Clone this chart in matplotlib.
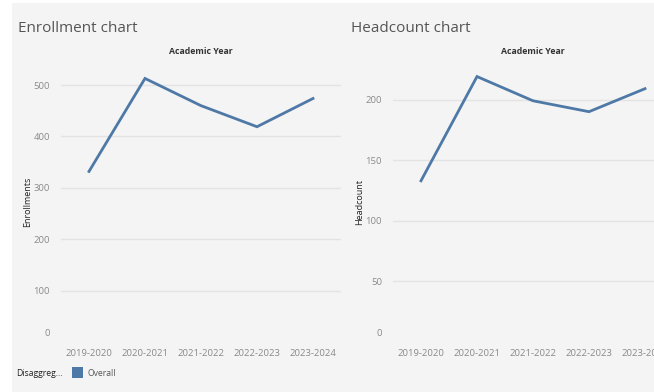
import matplotlib.pyplot as plt
from matplotlib.patches import Rectangle
from matplotlib.transforms import ScaledTranslation

years = ["2019-2020", "2020-2021", "2021-2022", "2022-2023", "2023-2024"]
enrollments = [332, 513, 460, 419, 474]
headcount = [133, 219, 199, 190, 209]
enroll_ticks = [0, 100, 200, 300, 400, 500]
head_ticks = [0, 50, 100, 150, 200]

W, H = 654, 392
BG = "#f4f4f4"
LINE = "#4e79a7"
plt.rcParams["font.family"] = ["Open Sans", "DejaVu Sans"]

fig = plt.figure(figsize=(W / 100, H / 100), dpi=100, facecolor="white")
fig.patches.append(Rectangle((12 / W, 0), 1, 1 - 3 / H, transform=fig.transFigure,
                             facecolor=BG, edgecolor="none", zorder=-10))


def px_axes(x0, y0, x1, y1):
    return fig.add_axes([x0 / W, 1 - y1 / H, (x1 - x0) / W, (y1 - y0) / H])


def panel(ax, values, ticks, ymax, ylabel):
    ax.set_facecolor("none")
    x = list(range(len(years)))
    ax.plot(x, values, color=LINE, lw=2.0, solid_joinstyle="miter", clip_on=False)
    ax.set_xlim(-0.5, len(years) - 0.5)
    ax.set_ylim(0, ymax)
    ax.set_xticks(x)
    ax.set_xticklabels(years)
    ax.set_yticks(ticks)
    for t in ticks[1:]:
        ax.axhline(t, color="#e3e3e3", lw=1.0, zorder=0)
    for s in ax.spines.values():
        s.set_visible(False)
    ax.tick_params(length=0, labelsize=6.8, labelcolor="#8a8a8a", pad=5)
    ax.tick_params(axis="y", pad=8)
    # tableau nudges the bottom label up
    zero = ax.get_yticklabels()[0]
    zero.set_transform(zero.get_transform() + ScaledTranslation(0, 7 / 72, fig.dpi_scale_trans))
    ax.set_ylabel(ylabel, fontsize=6.5, color="#222222", labelpad=1)
    ax.set_title("Academic Year", fontsize=6.3, color="#333333",
                 fontweight="bold", pad=6)


ax1 = px_axes(61, 62, 341, 342)
panel(ax1, enrollments, enroll_ticks, 545, "Enrollments")

ax2 = px_axes(393, 62, 673, 342)
panel(ax2, headcount, head_ticks, 231, "Headcount")

fig.text(18 / W, 1 - 28 / H, "Enrollment chart", fontsize=11, color="#555555", va="center")
fig.text(351 / W, 1 - 28 / H, "Headcount chart", fontsize=11, color="#555555", va="center")

# legend
fig.text(16 / W, 1 - 373 / H, "Disaggreg...", fontsize=6.2, color="#222222", va="center")
fig.patches.append(Rectangle((72 / W, 1 - 378 / H), 11 / W, 11 / H, transform=fig.transFigure,
                             facecolor=LINE, edgecolor="none"))
fig.text(87 / W, 1 - 373 / H, "Overall", fontsize=6.2, color="#555555", va="center")

fig.savefig("out.png", dpi=100, facecolor="white")
